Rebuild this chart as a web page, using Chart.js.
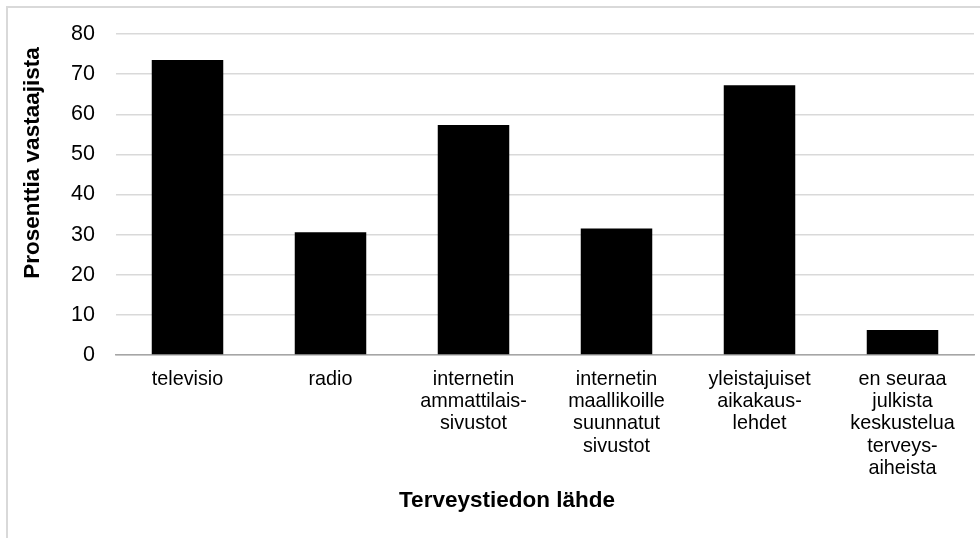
<!DOCTYPE html>
<html>
<head>
<meta charset="utf-8">
<script src="https://cdn.jsdelivr.net/npm/chart.js@4"></script>
<style>
  html, body { margin: 0; padding: 0; background: #fff; }
  #wrap { width: 980px; height: 538px; position: relative; }
</style>
</head>
<body>
<div id="wrap"><canvas id="c" width="980" height="538"></canvas></div>
<script>
// Health information sources (% of respondents)
const categories = [
  ['televisio'],
  ['radio'],
  ['internetin', 'ammattilais-', 'sivustot'],
  ['internetin', 'maallikoille', 'suunnatut', 'sivustot'],
  ['yleistajuiset', 'aikakaus-', 'lehdet'],
  ['en seuraa', 'julkista', 'keskustelua', 'terveys-', 'aiheista']
];
const percentValues = [73.5, 30.6, 57.3, 31.5, 67.2, 6.2];
const yTicks = [0, 10, 20, 30, 40, 50, 60, 70, 80];
const xTitle = 'Terveystiedon lähde';
const yTitle = 'Prosenttia vastaajista';

const FONT = '"Liberation Sans", Arial, sans-serif';

// Light frame around the chart and the two axis titles
const decor = {
  id: 'decor',
  beforeDraw(chart) {
    const ctx = chart.ctx;
    ctx.save();
    ctx.strokeStyle = '#d9d9d9';
    ctx.lineWidth = 2;
    ctx.beginPath();
    ctx.moveTo(7, 538);
    ctx.lineTo(7, 7);
    ctx.lineTo(980, 7);
    ctx.stroke();
    ctx.restore();
  },
  afterDraw(chart) {
    const ctx = chart.ctx;
    ctx.save();
    ctx.fillStyle = '#000';
    ctx.font = 'bold 22.5px ' + FONT;
    ctx.textAlign = 'center';
    ctx.textBaseline = 'middle';
    ctx.fillText(xTitle, 507, 501);
    ctx.translate(33, 163);
    ctx.rotate(-Math.PI / 2);
    ctx.fillText(yTitle, 0, 0);
    ctx.restore();
  }
};

new Chart(document.getElementById('c'), {
  type: 'bar',
  data: {
    labels: categories,
    datasets: [{
      data: percentValues,
      backgroundColor: '#000000',
      borderWidth: 0,
      barPercentage: 0.5,
      categoryPercentage: 1.0
    }]
  },
  options: {
    responsive: false,
    animation: false,
    devicePixelRatio: 1,
    layout: { padding: { left: 0, right: 6, top: 34, bottom: 0 } },
    plugins: {
      legend: { display: false },
      tooltip: { enabled: false }
    },
    scales: {
      x: {
        afterFit(scale) { scale.height = 538 - 355; },
        grid: { display: false, drawTicks: false },
        border: { display: true, color: '#a6a6a6', width: 1.5 },
        ticks: {
          color: '#000',
          font: { family: FONT, size: 19.8, lineHeight: 1.13 },
          padding: 13,
          maxRotation: 0,
          autoSkip: false
        }
      },
      y: {
        min: 0,
        max: 80,
        afterFit(scale) { scale.width = 116; },
        afterBuildTicks(scale) { scale.ticks = yTicks.map(v => ({ value: v })); },
        grid: { color: '#d9d9d9', lineWidth: 1.5, drawTicks: false },
        border: { display: false },
        ticks: {
          color: '#000',
          font: { family: FONT, size: 21.5 },
          padding: 21
        }
      }
    }
  },
  plugins: [decor]
});
</script>
</body>
</html>
